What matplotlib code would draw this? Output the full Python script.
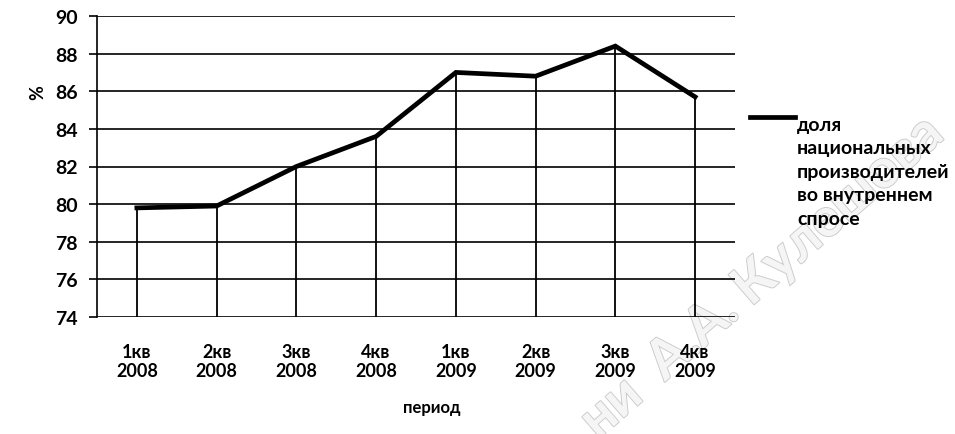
import matplotlib.pyplot as plt
from matplotlib.lines import Line2D
import matplotlib.patheffects as pe

# Data ------------------------------------------------------------
quarters = ["1кв", "2кв", "3кв", "4кв", "1кв", "2кв", "3кв", "4кв"]
years = ["2008", "2008", "2008", "2008", "2009", "2009", "2009", "2009"]
share = [79.8, 79.9, 82.0, 83.6, 87.0, 86.8, 88.4, 85.7]

series_label = "доля\nнациональных\nпроизводителей\nво внутреннем\nспросе"
xlabel = "период"
ylabel = "%"
watermark = "ни  А.А. Кулешова"

# Styles ----------------------------------------------------------
plt.rcParams['font.family'] = ['Lato', 'DejaVu Sans']
plt.rcParams['font.weight'] = 'bold'

W, H = 955, 435
fig = plt.figure(figsize=(W / 100, H / 100), dpi=100)
ax = fig.add_axes([97 / W, 1 - 318 / H, (735 - 97) / W, (318 - 17) / H])
ax.set_facecolor('none')

# watermark (outlined, behind the chart)
fig.text(598 / W, 1 - 441 / H, watermark, fontsize=39, color='#f5f5f5',
         rotation=41, rotation_mode='anchor', ha='left', va='baseline',
         zorder=-1,
         path_effects=[pe.Stroke(linewidth=1.3, foreground='#cacaca'),
                       pe.Normal()])

x = list(range(len(share)))
ax.vlines(x, 74, share, color='black', lw=1.3, zorder=2)
ax.plot(x, share, color='black', lw=3.4, solid_joinstyle='miter', zorder=3)

ax.set_xlim(-0.5, len(share) - 0.5)
ax.set_ylim(74, 90)
ax.set_yticks(range(74, 91, 2))
ax.yaxis.grid(True, color='black', lw=1.2)
ax.set_axisbelow(True)
ax.tick_params(axis='y', direction='out', length=6, width=1.2,
               labelsize=14, pad=8)
ax.set_xticks(x)
ax.set_xticklabels([f"{q}\n{y}" for q, y in zip(quarters, years)],
                   fontsize=13, linespacing=1.15)
ax.tick_params(axis='x', length=0, pad=19)

for s in ['top', 'right', 'bottom']:
    ax.spines[s].set_visible(False)
ax.spines['left'].set_linewidth(1.2)

fig.text(38 / W, 1 - 93 / H, ylabel, rotation=90, fontsize=13,
         ha='center', va='center')
fig.text(432 / W, 1 - 408 / H, xlabel, fontsize=12, ha='center', va='center')

# legend key
fig.add_artist(Line2D([750 / W, 795 / W], [1 - 118 / H, 1 - 118 / H],
                      color='black', lw=3.4))
fig.text(797 / W, 1 - 117 / H, series_label, fontsize=14, ha='left',
         va='top', linespacing=1.46)

fig.savefig("out.png", dpi=100)
